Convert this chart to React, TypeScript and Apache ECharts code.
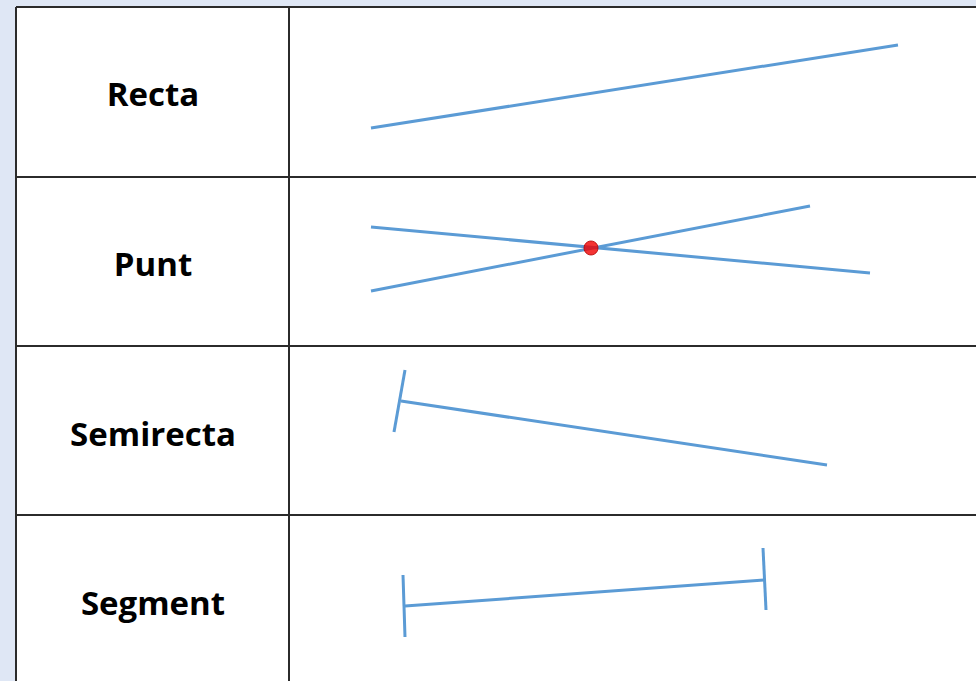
import React, { useEffect, useRef } from "react";
import * as echarts from "echarts";

// Row labels and their anchor points (in picture units)
const rowLabels = ["Recta", "Punt", "Semirecta", "Segment"];
const labelPoints: [number, number][] = [
  [153, 93],
  [153, 263],
  [153, 433],
  [153, 602],
];

// Table rules
const tableLines: [number, number][][] = [
  [[16, 7], [976, 7]],
  [[16, 7], [16, 681]],
  [[289, 7], [289, 681]],
  [[16, 177], [976, 177]],
  [[16, 346], [976, 346]],
  [[16, 515], [976, 515]],
];

// Geometric figures
const recta: [number, number][] = [[371, 128], [898, 45]];
const puntLineA: [number, number][] = [[371, 227], [870, 273]];
const puntLineB: [number, number][] = [[371, 291], [810, 206]];
const puntDot: [number, number][] = [[591, 248]];
const semirectaRay: [number, number][] = [[401, 401], [827, 465]];
const semirectaTick: [number, number][] = [[405, 370], [394, 432]];
const segmentMain: [number, number][] = [[405, 606], [764, 580]];
const segmentTickL: [number, number][] = [[403, 575], [405, 637]];
const segmentTickR: [number, number][] = [[763, 548], [766, 610]];

const BLUE = "#5b9bd5";

export default function App() {
  const ref = useRef<HTMLDivElement>(null);
  useEffect(() => {
    if (!ref.current) return;
    const chart = echarts.init(ref.current, undefined, { renderer: "svg" });
    const blueLine = (data: [number, number][], name: string) => ({
      type: "line",
      name,
      data,
      symbol: "none",
      lineStyle: { color: BLUE, width: 3 },
      z: 3,
      silent: true,
    });
    const series: any[] = [];
    tableLines.forEach((l, i) =>
      series.push({
        type: "line",
        name: "rule" + i,
        data: l,
        symbol: "none",
        lineStyle: { color: "#2b2b2b", width: 2 },
        z: 2,
        silent: true,
      })
    );
    series.push(blueLine(recta, "recta"));
    series.push(blueLine(puntLineA, "puntA"));
    series.push(blueLine(puntLineB, "puntB"));
    series.push(blueLine(semirectaRay, "semirecta"));
    series.push(blueLine(semirectaTick, "semirectaTick"));
    series.push(blueLine(segmentMain, "segment"));
    series.push(blueLine(segmentTickL, "segmentL"));
    series.push(blueLine(segmentTickR, "segmentR"));
    series.push({
      type: "scatter",
      name: "dot",
      data: puntDot,
      symbol: "circle",
      symbolSize: 14,
      itemStyle: { color: "#f00000", borderColor: "#b00000", borderWidth: 1 },
      z: 5,
      silent: true,
    });
    series.push({
      type: "scatter",
      name: "labels",
      data: labelPoints.map((p, i) => ({ value: p, name: rowLabels[i] })),
      symbolSize: 0,
      itemStyle: { color: "#000000", opacity: 1 },
      label: {
        show: true,
        position: "inside",
        formatter: (p: any) => p.name,
        fontFamily: "Open Sans",
        fontWeight: "bold",
        fontSize: 33,
        color: "#000000",
        opacity: 1,
        textBorderWidth: 0,
      },
      z: 5,
      silent: true,
    });
    chart.setOption({
      animation: false,
      backgroundColor: "#dfe7f5",
      grid: { left: 0, right: 0, top: 0, bottom: 0 },
      xAxis: { type: "value", min: 0, max: 976, show: false },
      yAxis: { type: "value", min: 0, max: 681, inverse: true, show: false },
      graphic: [
        {
          type: "rect",
          shape: { x: 16, y: 7, width: 960, height: 674 },
          style: { fill: "#ffffff" },
          z: 0,
          silent: true,
        },
      ],
      series,
    });
    return () => chart.dispose();
  }, []);
  return (
    <div
      ref={ref}
      style={{ position: "fixed", left: 0, top: 0, width: 976, height: 681 }}
    />
  );
}
